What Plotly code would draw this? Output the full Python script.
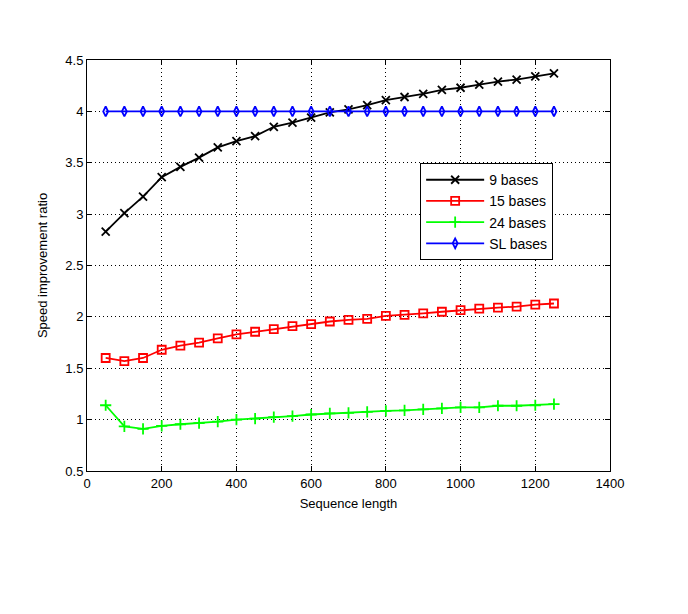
import plotly.graph_objects as go

seq_len = [50, 100, 150, 200, 250, 300, 350, 400, 450, 500, 550, 600, 650,
           700, 750, 800, 850, 900, 950, 1000, 1050, 1100, 1150, 1200, 1250]
bases_9 = [2.83, 3.01, 3.17, 3.36, 3.46, 3.55, 3.65, 3.71, 3.76, 3.85, 3.89, 3.94, 3.99,
           4.02, 4.06, 4.11, 4.14, 4.17, 4.21, 4.23, 4.26, 4.29, 4.31, 4.34, 4.37]
bases_15 = [1.60, 1.57, 1.60, 1.68, 1.72, 1.75, 1.79, 1.83, 1.855, 1.88, 1.91, 1.93, 1.955,
            1.97, 1.98, 2.01, 2.02, 2.035, 2.05, 2.065, 2.08, 2.09, 2.10, 2.12, 2.13]
bases_24 = [1.14, 0.935, 0.91, 0.94, 0.955, 0.965, 0.98, 1.00, 1.01, 1.025, 1.035, 1.05, 1.06,
            1.065, 1.075, 1.085, 1.09, 1.10, 1.11, 1.12, 1.12, 1.135, 1.135, 1.14, 1.15]
bases_sl = [4.0] * 25

series = [
    ("9 bases", bases_9, "#000000", "x-thin", 8),
    ("15 bases", bases_15, "#ff0000", "square-open", 8),
    ("24 bases", bases_24, "#00ff00", "cross-thin", 8),
    ("SL bases", bases_sl, "#0000ff", "diamond-tall-open", 7),
]

fig = go.Figure()
for name, ys, color, sym, size in series:
    fig.add_trace(go.Scatter(
        x=seq_len, y=ys, name=name, mode="lines+markers",
        line=dict(color=color, width=1.8),
        marker=dict(symbol=sym, size=size, color=color,
                    line=dict(color=color, width=1.8)),
    ))

axis_common = dict(
    showline=True, linecolor="black", linewidth=1, mirror="ticks",
    ticks="inside", ticklen=5, tickcolor="black",
    showgrid=True, gridcolor="black", griddash="1px,3px", gridwidth=1,
    zeroline=False, tickfont=dict(family="Liberation Sans, Arial", size=13, color="black"),
)

fig.update_xaxes(range=[0, 1400], dtick=200, tick0=0,
                 title=dict(text="Sequence length", standoff=9,
                            font=dict(family="Liberation Sans, Arial", size=13, color="black")),
                 **axis_common)
fig.update_yaxes(range=[0.5, 4.5], dtick=0.5, tick0=0.5,
                 title=dict(text="Speed improvement ratio", standoff=14,
                            font=dict(family="Liberation Sans, Arial", size=13, color="black")),
                 **axis_common)

fig.update_layout(
    width=688, height=614,
    margin=dict(l=79, r=86, t=52, b=151),
    paper_bgcolor="white", plot_bgcolor="white",
    legend=dict(x=0.637, y=0.749, xanchor="left", yanchor="top",
                bordercolor="black", borderwidth=1, bgcolor="white",
                font=dict(family="Liberation Sans, Arial", size=14, color="black"),
                tracegroupgap=0, itemwidth=58),
    showlegend=True,
)

fig.write_html("out.html")
